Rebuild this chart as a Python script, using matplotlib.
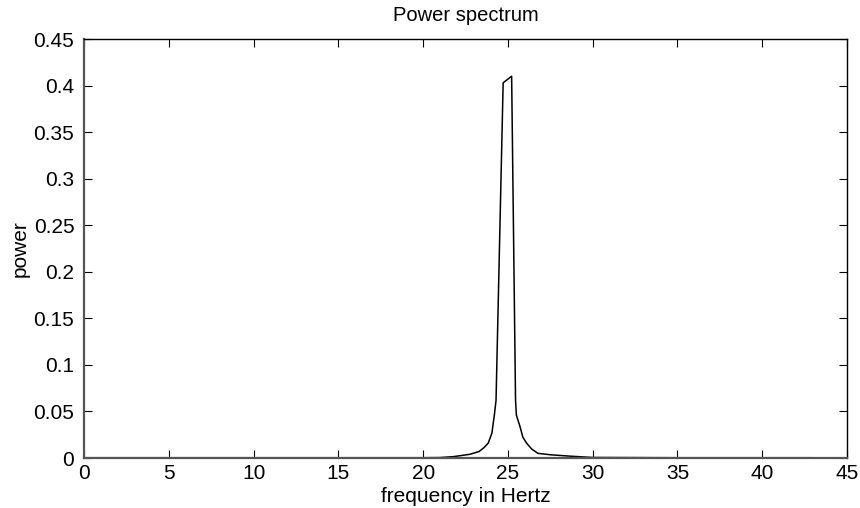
import matplotlib
matplotlib.use("Agg")
import matplotlib.pyplot as plt

plt.rcParams['font.family'] = ['Liberation Sans', 'DejaVu Sans']
plt.rcParams['font.size'] = 15

# frequencies (Hz) and power
freq = [0, 5, 10, 15, 20, 21.0, 21.8, 22.76, 23.3, 23.58, 23.84, 24.06,
        24.13, 24.2, 24.3, 24.72, 25.22, 25.45, 25.5, 25.71, 25.88, 26.1,
        26.4, 26.77, 27.5, 28.65, 30.0, 35, 40, 42.9]
power = [0.0003, 0.0003, 0.0003, 0.0003, 0.0003, 0.0005, 0.0015, 0.004,
         0.007, 0.011, 0.016, 0.027, 0.037, 0.046, 0.062, 0.403, 0.410,
         0.062, 0.046, 0.034, 0.0225, 0.016, 0.0097, 0.005, 0.0035, 0.002,
         0.0006, 0.0003, 0.0003, 0.0003]

xticks = [0, 5, 10, 15, 20, 25, 30, 35, 40, 45]
yticks = [0, 0.05, 0.1, 0.15, 0.2, 0.25, 0.3, 0.35, 0.4, 0.45]
ytick_labels = ['0', '0.05', '0.1', '0.15', '0.2', '0.25', '0.3', '0.35', '0.4', '0.45']

fig = plt.figure(figsize=(8.6, 5.08), dpi=100)
ax = fig.add_axes([0.0977, 0.0984, 0.8872, 0.8248])

ax.plot(freq, power, color='black', lw=1.1)

ax.set_xlim(0, 45)
ax.set_ylim(0, 0.45)
ax.set_xticks(xticks)
ax.set_xticklabels([str(t) for t in xticks])
ax.set_yticks(yticks)
ax.set_yticklabels(ytick_labels)

ax.tick_params(direction='in', length=5.5, width=0.8, top=True, right=True,
               labelsize=15)
ax.tick_params(axis='y', pad=7)
ax.tick_params(axis='x', pad=4)

for s in ['left', 'bottom']:
    ax.spines[s].set_color('#555555')
    ax.spines[s].set_linewidth(1.6)
for s in ['top', 'right']:
    ax.spines[s].set_color('black')
    ax.spines[s].set_linewidth(1.0)

ax.set_title("Power spectrum", fontsize=14.5, pad=13)
ax.set_xlabel("frequency in Hertz", fontsize=15, labelpad=3)
ax.set_ylabel("power", fontsize=15, labelpad=3)

fig.savefig("out.png", dpi=100)
